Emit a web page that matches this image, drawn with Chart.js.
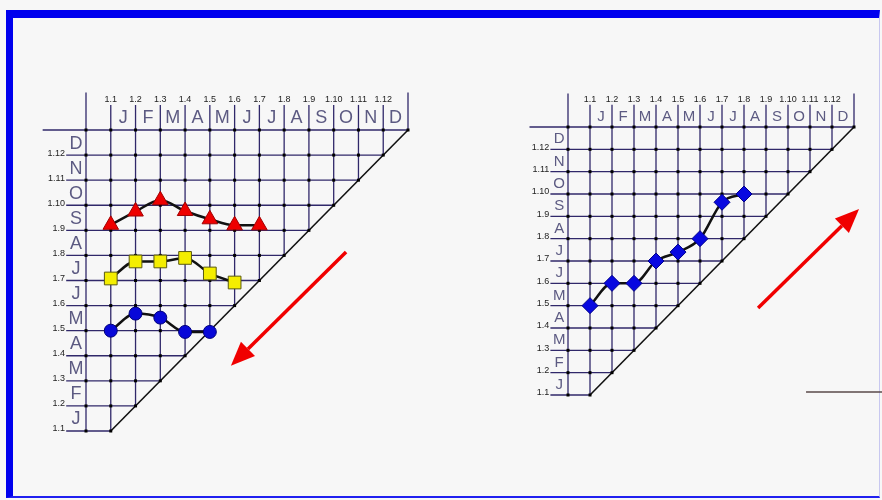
<!DOCTYPE html>
<html>
<head>
<meta charset="utf-8">
<script src="https://cdn.jsdelivr.net/npm/chart.js@4"></script>
<style>
    html, body { margin: 0; padding: 0; background: #f7f7f7; }
    body { width: 882px; height: 500px; position: relative; overflow: hidden; font-family: "Liberation Sans", Arial, sans-serif; }
    #frame {
        position: absolute; left: 6px; top: 10px; width: 866px; height: 478px;
        border-top: 8px solid #0000ee; border-left: 7px solid #0000ee;
        border-bottom: 2px solid #2020f0; border-right: 1px solid #c8c8f0;
        background: #f7f7f7;
    }
    canvas { position: absolute; top: 0; }
    #left-chart { left: 0; }
    #right-chart { left: 441px; }
</style>
</head>
<body>
<div id="frame"></div>
<canvas id="left-chart" width="441" height="500"></canvas>
<canvas id="right-chart" width="441" height="500"></canvas>

<script>
// Date labels used on both axes (day.month), and the month initials
const dateLabels = ['1.1', '1.2', '1.3', '1.4', '1.5', '1.6', '1.7', '1.8', '1.9', '1.10', '1.11', '1.12'];
const monthLetters = ['J', 'F', 'M', 'A', 'M', 'J', 'J', 'A', 'S', 'O', 'N', 'D'];

// Left panel: sowing month (x) against harvest date (y, in months)
const leftRedSow = [1, 2, 3, 4, 5, 6, 7];
const leftRedHarvest = [9.22, 9.75, 10.2, 9.77, 9.44, 9.2, 9.2];
const leftYellowSow = [1, 2, 3, 4, 5, 6];
const leftYellowHarvest = [7.08, 7.76, 7.76, 7.9, 7.28, 6.92];
const leftBlueSow = [1, 2, 3, 4, 5];
const leftBlueHarvest = [5.0, 5.68, 5.52, 4.95, 4.95];

// Right panel
const rightBlueSow = [1, 2, 3, 4, 5, 6, 7, 8];
const rightBlueHarvest = [5.0, 6.0, 6.0, 7.0, 7.4, 8.0, 9.63, 10.0];

// Arrows, in the panel's own units: [tailX, tailY, tipX, tipY]
const leftArrow = [10.5, 8.14, 5.85, 3.6];
const rightArrow = [8.64, 4.9, 13.23, 9.33];

function toPoints(xs, ys) {
    return xs.map((x, i) => ({ x: x, y: ys[i] }));
}

function drawArrow(ctx, x1, y1, x2, y2) {
    const angle = Math.atan2(y2 - y1, x2 - x1);
    const headLen = 24, headHalf = 10;
    const bx = x2 - headLen * Math.cos(angle);
    const by = y2 - headLen * Math.sin(angle);
    ctx.strokeStyle = '#f00000';
    ctx.fillStyle = '#f00000';
    ctx.lineWidth = 3.5;
    ctx.beginPath();
    ctx.moveTo(x1, y1);
    ctx.lineTo(bx, by);
    ctx.stroke();
    ctx.beginPath();
    ctx.moveTo(x2, y2);
    ctx.lineTo(bx + headHalf * Math.sin(angle), by - headHalf * Math.cos(angle));
    ctx.lineTo(bx - headHalf * Math.sin(angle), by + headHalf * Math.cos(angle));
    ctx.closePath();
    ctx.fill();
}

// Draws the triangular sowing/harvest grid with its labels
const seasonGrid = {
    id: 'seasonGrid',
    beforeDatasetsDraw(chart, args, opts) {
        const ctx = chart.ctx;
        const px = v => chart.scales.x.getPixelForValue(v);
        const py = v => chart.scales.y.getPixelForValue(v);
        const seg = (x1, y1, x2, y2) => {
            ctx.beginPath();
            ctx.moveTo(px(x1), py(y1));
            ctx.lineTo(px(x2), py(y2));
            ctx.stroke();
        };
        ctx.save();
        ctx.strokeStyle = '#30286a';
        ctx.lineWidth = 1.3;

        // horizontal lines stop at the diagonal
        for (let v = 1; v <= 13; v++) {
            seg(v === 13 ? -1.75 : -0.8, v, v, v);
        }
        // vertical lines start at the diagonal and run through the header
        for (let u = 0; u <= 13; u++) {
            const outer = (u === 0 || u === 13);
            seg(u, u === 0 ? 1 : u, u, outer ? 14.5 : 14);
        }

        // diagonal
        ctx.strokeStyle = '#111';
        ctx.lineWidth = 1.6;
        seg(1, 1, 13, 13);

        // dots where lines cross
        ctx.fillStyle = '#000';
        for (let u = 0; u <= 13; u++) {
            for (let v = Math.max(u, 1); v <= 13; v++) {
                ctx.fillRect(px(u) - 1.5, py(v) - 1.5, 3, 3);
            }
        }

        // date labels on top and on the left
        ctx.fillStyle = '#222';
        ctx.font = '9px "Liberation Sans", Arial, sans-serif';
        ctx.textAlign = 'center';
        ctx.textBaseline = 'middle';
        dateLabels.forEach((lab, i) => ctx.fillText(lab, px(i + 1), py(14.22)));
        ctx.textAlign = 'right';
        dateLabels.forEach((lab, i) => ctx.fillText(lab, px(-0.85), py(i + 1) - 2));

        // month initials
        ctx.fillStyle = '#5c5a82';
        ctx.font = opts.letterSize + 'px "Liberation Sans", Arial, sans-serif';
        ctx.textAlign = 'center';
        monthLetters.forEach((m, i) => ctx.fillText(m, px(i + 1.5), py(13.5) + 1));
        monthLetters.forEach((m, i) => ctx.fillText(m, px(-0.4), py(i + 1.5) + 1));
        ctx.restore();
    },
    afterDatasetsDraw(chart, args, opts) {
        const ctx = chart.ctx;
        const px = v => chart.scales.x.getPixelForValue(v);
        const py = v => chart.scales.y.getPixelForValue(v);
        ctx.save();
        const a = opts.arrow;
        drawArrow(ctx, px(a[0]), py(a[1]), px(a[2]), py(a[3]));
        if (opts.rule) {
            const r = opts.rule;
            ctx.strokeStyle = '#5a4a4a';
            ctx.lineWidth = 1.5;
            ctx.beginPath();
            ctx.moveTo(px(r[0]), py(r[2]));
            ctx.lineTo(px(r[1]), py(r[2]));
            ctx.stroke();
        }
        ctx.restore();
    }
};

function seriesStyle(color, border, style, radius) {
    return {
        borderColor: '#111',
        borderWidth: 2.5,
        cubicInterpolationMode: 'monotone',
        pointStyle: style,
        pointRadius: radius,
        pointBackgroundColor: color,
        pointBorderColor: border,
        pointBorderWidth: 1,
        clip: false
    };
}

function makeChart(canvasId, datasets, padding, letterSize, arrow, rule) {
    return new Chart(document.getElementById(canvasId), {
        type: 'line',
        data: { datasets: datasets },
        options: {
            responsive: false,
            animation: false,
            layout: { padding: padding },
            plugins: {
                legend: { display: false },
                tooltip: { enabled: false },
                seasonGrid: { letterSize: letterSize, arrow: arrow, rule: rule }
            },
            scales: {
                x: { type: 'linear', min: 0, max: 13, display: false },
                y: { type: 'linear', min: 1, max: 13, display: false }
            }
        },
        plugins: [seasonGrid]
    });
}

makeChart('left-chart', [
    { data: toPoints(leftRedSow, leftRedHarvest), ...seriesStyle('#ee0000', '#a00000', 'triangle', 9) },
    { data: toPoints(leftYellowSow, leftYellowHarvest), ...seriesStyle('#f4ee00', '#5a5a10', 'rect', 9) },
    { data: toPoints(leftBlueSow, leftBlueHarvest), ...seriesStyle('#0808d8', '#00007a', 'circle', 6.5) }
], { left: 86, right: 33, top: 130, bottom: 69 }, 18, leftArrow, null);

makeChart('right-chart', [
    { data: toPoints(rightBlueSow, rightBlueHarvest), ...seriesStyle('#0808e0', '#00008a', 'rectRot', 8) }
], { left: 127, right: 28, top: 127, bottom: 105 }, 15, rightArrow, [10.82, 14.4, 1.13]);
</script>
</body>
</html>
